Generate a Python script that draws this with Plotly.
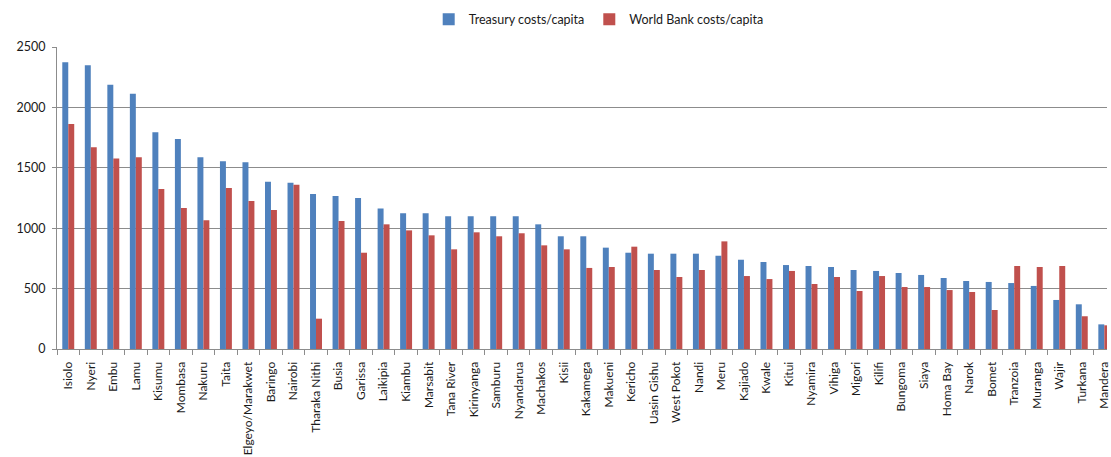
import plotly.graph_objects as go

counties = [
    "Isiolo", "Nyeri", "Embu", "Lamu", "Kisumu", "Mombasa", "Nakuru", "Taita",
    "Elgeyo/Marakwet", "Baringo", "Nairobi", "Tharaka Nithi", "Busia", "Garissa",
    "Laikipia", "Kiambu", "Marsabit", "Tana River", "Kirinyanga", "Samburu",
    "Nyandarua", "Machakos", "Kisii", "Kakamega", "Makueni", "Kericho",
    "Uasin Gishu", "West Pokot", "Nandi", "Meru", "Kajiado", "Kwale", "Kitui",
    "Nyamira", "Vihiga", "Migori", "Kilifi", "Bungoma", "Siaya", "Homa Bay",
    "Narok", "Bomet", "Tranzoia", "Muranga", "Wajir", "Turkana", "Mandera",
]

treasury = [
    2373, 2348, 2188, 2113, 1794, 1738, 1587, 1554,
    1545, 1385, 1377, 1283, 1267, 1250,
    1164, 1123, 1123, 1098, 1098, 1098,
    1098, 1032, 933, 933, 839, 797,
    789, 789, 789, 772, 739, 720, 695,
    687, 679, 654, 646, 629, 613, 588,
    563, 555, 546, 522, 406, 370, 204,
]

world_bank = [
    1862, 1670, 1578, 1587, 1324, 1167, 1065, 1333,
    1225, 1151, 1360, 251, 1060, 797,
    1032, 982, 941, 825, 966, 933,
    958, 858, 825, 671, 679, 847,
    654, 596, 654, 891, 604, 579, 646,
    538, 596, 480, 604, 513, 513, 488,
    472, 323, 687, 679, 687, 271, 196,
]

y_ticks = [0, 500, 1000, 1500, 2000, 2500]

FONT = "Lato, 'Open Sans', sans-serif"
GRID = "#8c8c8c"
TEXT = "#1a1a1a"

fig = go.Figure()
fig.add_trace(go.Bar(
    name="Treasury costs/capita", x=counties, y=treasury,
    marker=dict(color="#4F81BD", line=dict(width=0)),
))
fig.add_trace(go.Bar(
    name="World Bank costs/capita", x=counties, y=world_bank,
    marker=dict(color="#C0504D", line=dict(width=0)),
))

fig.update_layout(
    width=1111, height=457,
    margin=dict(l=57, r=0, t=47, b=108, pad=0),
    paper_bgcolor="white", plot_bgcolor="white",
    barmode="group", bargap=0.47, bargroupgap=0,
    font=dict(family=FONT, size=12, color=TEXT),
    showlegend=True,
    legend=dict(
        orientation="h", x=0.354, xanchor="left", y=1.091, yanchor="middle",
        font=dict(family=FONT, size=12.5, color=TEXT),
        bgcolor="rgba(0,0,0,0)", itemwidth=30,
    ),
)

fig.update_xaxes(
    type="category", range=[-0.5, 46.12],
    tickangle=-90, tickson="boundaries",
    ticks="outside", ticklen=5, tickcolor=GRID, ticklabelstandoff=7,
    showline=True, linecolor=GRID, linewidth=1,
    showgrid=False, tickfont=dict(size=12, color=TEXT),
)
fig.update_yaxes(
    range=[0, 2500], tickvals=y_ticks,
    ticks="outside", ticklen=4, tickcolor=GRID, ticklabelstandoff=4,
    showline=True, linecolor=GRID, linewidth=1,
    showgrid=True, gridcolor=GRID, gridwidth=1,
    zeroline=False, tickfont=dict(size=12.5, color=TEXT),
)

fig.write_html("out.html")
